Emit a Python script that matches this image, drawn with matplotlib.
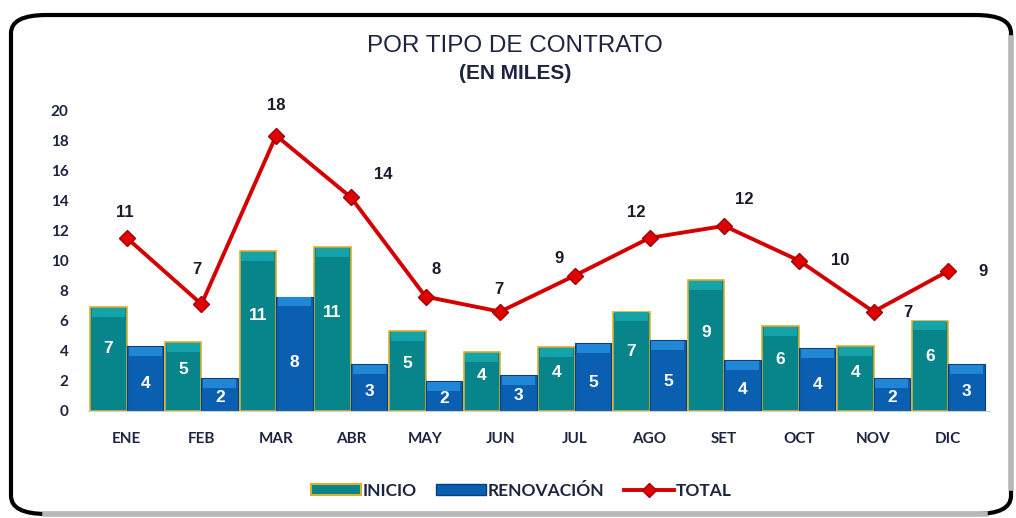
import matplotlib.pyplot as plt
from matplotlib.patches import FancyBboxPatch
from matplotlib.lines import Line2D
from matplotlib.patches import Patch
import numpy as np

meses = ['ENE', 'FEB', 'MAR', 'ABR', 'MAY', 'JUN', 'JUL', 'AGO', 'SET', 'OCT', 'NOV', 'DIC']
inicio = [6.9, 4.6, 10.6, 10.9, 5.3, 3.9, 4.25, 6.6, 8.7, 5.65, 4.3, 6.0]
renovacion = [4.3, 2.2, 7.6, 3.1, 2.0, 2.4, 4.5, 4.7, 3.4, 4.2, 2.2, 3.1]
total = [11.5, 7.1, 18.3, 14.2, 7.6, 6.6, 9.0, 11.5, 12.3, 10.0, 6.6, 9.3]
inicio_lbl = ['7', '5', '11', '11', '5', '4', '4', '7', '9', '6', '4', '6']
renov_lbl = ['4', '2', '8', '3', '2', '3', '5', '5', '4', '4', '2', '3']
total_lbl = ['11', '7', '18', '14', '8', '7', '9', '12', '12', '10', '7', '9']
yticks = [0, 2, 4, 6, 8, 10, 12, 14, 16, 18, 20]

# label offsets for the total line (pixels)
total_off = [(-2, 25), (-5, 35), (0, 30), (32, 23), (11, 27), (-1, 22),
             (-16, 17), (-13, 25), (20, 26), (41, 0), (34, -1), (35, 0)]

navy = '#1c2440'
teal, teal_hi = '#07858b', '#14a3a8'
blue, blue_hi = '#0b5fb0', '#2286d6'
gold = '#d8b030'
red = '#d40000'

fig = plt.figure(figsize=(10.16, 5.18), dpi=100)

# rounded frame
frame = FancyBboxPatch((11 / 1016, 4 / 518), 1000 / 1016, 499 / 518,
                       boxstyle='round,pad=0,rounding_size=0.035',
                       transform=fig.transFigure, facecolor='none',
                       edgecolor='black', linewidth=3, zorder=0)
fig.patches.append(frame)
fig.add_artist(Line2D([1011 / 1016, 1011 / 1016], [30 / 518, 480 / 518],
                      transform=fig.transFigure, color='#b8b8b8', lw=4))
fig.add_artist(Line2D([45 / 1016, 985 / 1016], [4 / 518, 4 / 518],
                      transform=fig.transFigure, color='#b8b8b8', lw=4))

ax = fig.add_axes([88 / 1016, 107 / 518, 902 / 1016, 301 / 518])
ax.patch.set_alpha(0)
x = np.arange(len(meses))
w = 0.49

ax.bar(x - w / 2, inicio, w, color=teal, edgecolor=gold, linewidth=1.2, zorder=2)
ax.bar(x - w / 2, [0.6] * len(x), w * 0.9, bottom=np.array(inicio) - 0.65,
       color=teal_hi, edgecolor='none', zorder=3)
ax.bar(x + w / 2, renovacion, w, color=blue, edgecolor='#08407a', linewidth=0.8, zorder=2)
ax.bar(x + w / 2, [0.6] * len(x), w * 0.9, bottom=np.array(renovacion) - 0.65,
       color=blue_hi, edgecolor='none', zorder=3)

for i in range(len(x)):
    ax.text(x[i] - w / 2, inicio[i] * 0.6, inicio_lbl[i], ha='center', va='center',
            color='white', fontsize=12.5, fontweight='bold', family='Liberation Sans', zorder=5)
    ax.text(x[i] + w / 2, renovacion[i] * 0.42, renov_lbl[i], ha='center', va='center',
            color='white', fontsize=12.5, fontweight='bold', family='Liberation Sans', zorder=5)

ax.plot(x, total, color=red, lw=2.8, marker='D', markersize=8,
        markerfacecolor='#e00000', markeredgecolor='#a00000', zorder=6)
for i in range(len(x)):
    ax.annotate(total_lbl[i], (x[i], total[i]), xytext=total_off[i],
                textcoords='offset pixels', ha='center', va='center',
                fontsize=12, fontweight='bold', family='Liberation Sans',
                color='#1a1a2a', zorder=7, annotation_clip=False)

ax.set_xlim(-0.52, 11.56)
ax.set_ylim(0, 20)
ax.set_yticks(yticks)
ax.set_xticks(x)
ax.set_xticklabels(meses)
for s in ['top', 'right', 'left']:
    ax.spines[s].set_visible(False)
ax.spines['bottom'].set_color('#d0d0d0')
ax.tick_params(length=0)
ax.tick_params(axis='x', pad=15)
ax.tick_params(axis='y', pad=14)
for t in ax.get_xticklabels() + ax.get_yticklabels():
    t.set_family('Lato')
    t.set_fontweight('bold')
    t.set_fontsize(11)
    t.set_color(navy)

fig.text(0.507, 0.912, 'POR TIPO DE CONTRATO', ha='center', va='center',
         fontsize=17.5, family='Liberation Sans', color=navy)
fig.text(0.507, 0.858, '(EN MILES)', ha='center', va='center',
         fontsize=15, fontweight='bold', family='Liberation Sans', color=navy)

handles = [Patch(facecolor=teal, edgecolor=gold, linewidth=1.5),
           Patch(facecolor=blue, edgecolor='#08407a'),
           Line2D([0], [0], color=red, lw=2.8, marker='D', markersize=7,
                  markerfacecolor='#e00000', markeredgecolor='#a00000')]
leg = fig.legend(handles, ['INICIO', 'RENOVACIÓN', 'TOTAL'], loc='center',
                 bbox_to_anchor=(0.513, 0.053), ncol=3, frameon=False,
                 handlelength=2.9, handleheight=0.6, handletextpad=0.1,
                 columnspacing=1.1, prop={'family': 'Lato', 'weight': 'bold', 'size': 12.5})
for t in leg.get_texts():
    t.set_color(navy)

fig.savefig('out.png', dpi=100)
